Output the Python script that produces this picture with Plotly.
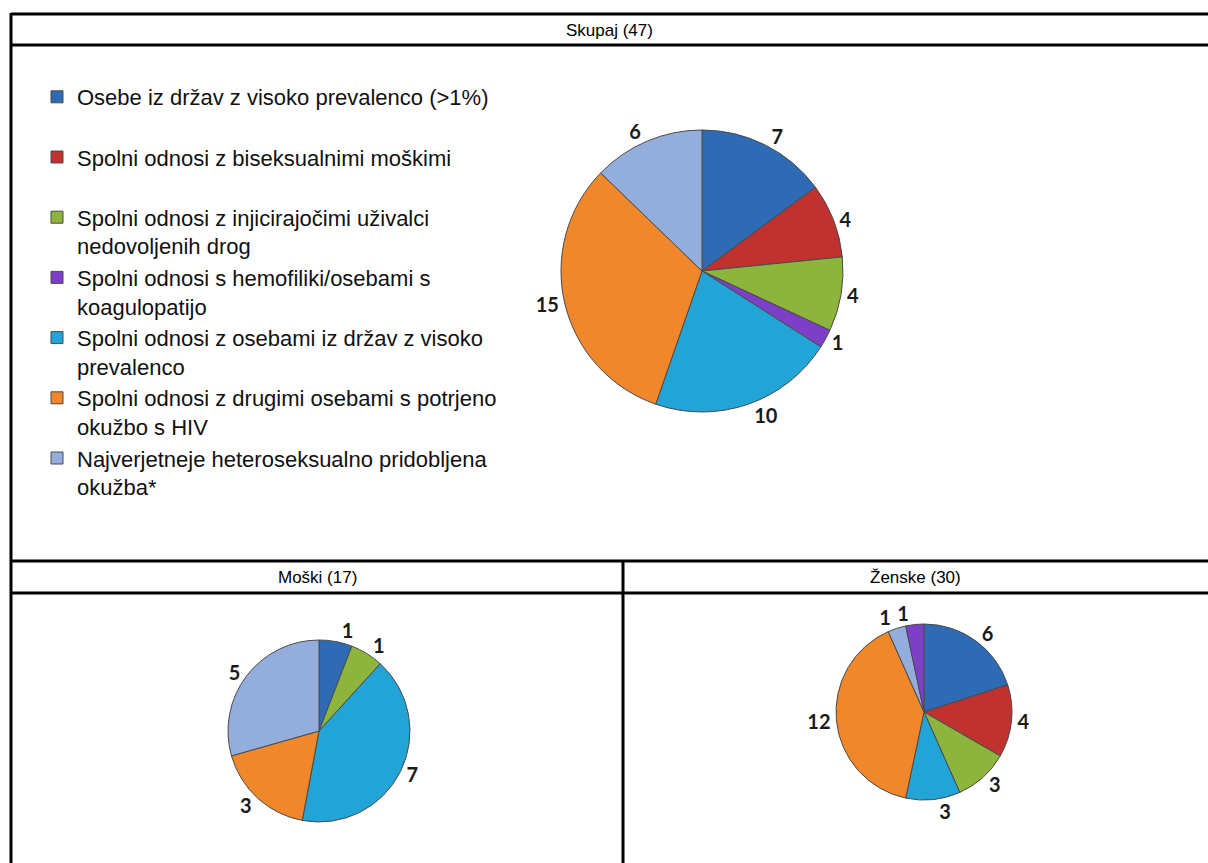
import plotly.graph_objects as go

W, H = 1208, 863

# ---------------- data ----------------
categories = [
    "Osebe iz držav z visoko prevalenco (>1%)<br>&nbsp;",
    "Spolni odnosi z biseksualnimi moškimi<br>&nbsp;",
    "Spolni odnosi z injicirajočimi uživalci<br>nedovoljenih drog",
    "Spolni odnosi s hemofiliki/osebami s<br>koagulopatijo",
    "Spolni odnosi z osebami iz držav z visoko<br>prevalenco",
    "Spolni odnosi z drugimi osebami s potrjeno<br>okužbo s HIV",
    "Najverjetneje heteroseksualno pridobljena<br>okužba*",
]
colors = ["#2F6BB4", "#C0322F", "#8DB43C", "#7E3FC8", "#22A5D6", "#F0872A", "#93AEDC"]

skupaj_values = [7, 4, 4, 1, 10, 15, 6]

moski_idx = [0, 2, 4, 5, 6]
moski_values = [1, 1, 7, 3, 5]

zenske_idx = [0, 1, 2, 4, 5, 6, 3]
zenske_values = [6, 4, 3, 3, 12, 1, 1]

headers = ["Skupaj (47)", "Moški (17)", "Ženske (30)"]

# ---------------- helpers ----------------
def px_x(x):
    return x / W

def px_y(y):
    return 1 - y / H

def dom(cx, cy, r):
    return dict(x=[px_x(cx - r), px_x(cx + r)], y=[px_y(cy + r), px_y(cy - r)])

label_font = dict(family="Lato, 'Liberation Sans', Arial", size=20, color="#1a1a1a", weight="bold")
slice_line = dict(color="#4a4a4a", width=1)
clear = "rgba(0,0,0,0)"

fig = go.Figure()

def add_pie(idx, values, domain, legend, overlay_slices=()):
    labels = [categories[i] for i in idx]
    cols = [colors[i] for i in idx]
    n = len(values)
    # base pie: labels for all slices except those drawn by the overlay
    pos = ["none" if k in overlay_slices else "outside" for k in range(n)]
    fig.add_trace(go.Pie(
        labels=labels, values=values,
        marker=dict(colors=cols, line=slice_line),
        sort=False, direction="clockwise", rotation=0,
        textinfo="value", textposition=pos, outsidetextfont=label_font,
        domain=domain, showlegend=legend,
    ))
    if overlay_slices:
        # transparent copy of the same pie that only carries the labels of
        # neighbouring tiny slices (so they are not pushed apart)
        pos2 = ["outside" if k in overlay_slices else "none" for k in range(n)]
        fig.add_trace(go.Pie(
            labels=labels, values=values,
            marker=dict(colors=[clear] * n, line=dict(width=0)),
            sort=False, direction="clockwise", rotation=0,
            textinfo="value", textposition=pos2, outsidetextfont=label_font,
            domain=domain, showlegend=False, hoverinfo="skip",
        ))

add_pie(range(7), skupaj_values, dom(702, 271, 141), True)
add_pie(moski_idx, moski_values, dom(319, 731, 91), False, overlay_slices=(0,))
add_pie(zenske_idx, zenske_values, dom(924, 712, 88), False, overlay_slices=(6,))

# ---------------- table lines ----------------
line = dict(color="black", width=3)
shapes = []
for (x0, y0, x1, y1) in [
    (11, 14, W + 5, 14),
    (11, 45, W + 5, 45),
    (11, 561, W + 5, 561),
    (11, 593, W + 5, 593),
    (11, 13, 11, H + 5),
    (623, 561, 623, H + 5),
]:
    shapes.append(dict(type="line", xref="paper", yref="paper",
                       x0=px_x(x0), y0=px_y(y0), x1=px_x(x1), y1=px_y(y1), line=line))

head_font = dict(family="'Liberation Sans', Arial", size=17, color="black")
annotations = [
    dict(text=headers[0], x=px_x(609), y=px_y(30), xref="paper", yref="paper",
         showarrow=False, font=head_font, xanchor="center", yanchor="middle"),
    dict(text=headers[1], x=px_x(317), y=px_y(577), xref="paper", yref="paper",
         showarrow=False, font=head_font, xanchor="center", yanchor="middle"),
    dict(text=headers[2], x=px_x(915), y=px_y(577), xref="paper", yref="paper",
         showarrow=False, font=head_font, xanchor="center", yanchor="middle"),
]

fig.update_layout(
    width=W, height=H,
    margin=dict(l=0, r=0, t=0, b=0),
    paper_bgcolor="white", plot_bgcolor="white",
    shapes=shapes, annotations=annotations,
    legend=dict(
        x=px_x(37), y=px_y(76), xanchor="left", yanchor="top",
        valign="top", traceorder="normal",
        font=dict(family="'Liberation Sans', Arial", size=22, color="#111111"),
        bgcolor="rgba(0,0,0,0)",
    ),
)

fig.write_html("out.html", config={"displayModeBar": False},
               post_script="document.body.style.margin='0';document.body.style.overflow='hidden';")
